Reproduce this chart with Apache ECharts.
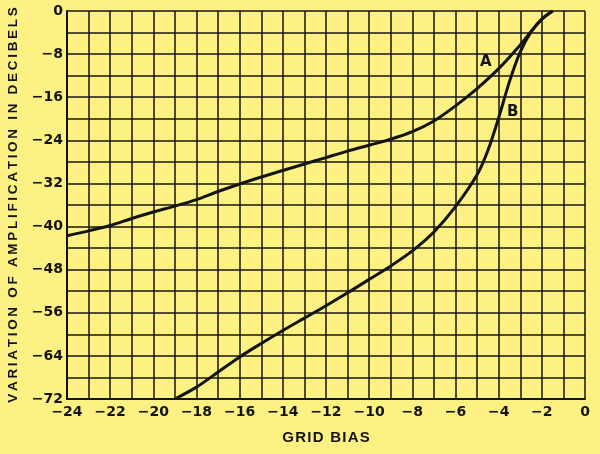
<!DOCTYPE html>
<html><head><meta charset="utf-8">
<script src="https://cdn.jsdelivr.net/npm/echarts@6/dist/echarts.min.js"></script>
<style>html,body{margin:0;padding:0;background:#fdf183;}#c{width:600px;height:454px;}</style>
</head><body><div id="c"></div>
<script>
const curveA_x = [-24, -23, -22, -21, -20, -19, -18, -17, -16, -15, -14, -13, -12, -11, -10, -9, -8, -7, -6, -5, -4, -3, -2.5, -2, -1.5];
const curveA_y = [-41.7, -40.8, -39.8, -38.5, -37.3, -36.2, -35, -33.5, -32.1, -30.8, -29.6, -28.4, -27.2, -26, -24.9, -23.8, -22.4, -20.4, -17.6, -14.4, -10.7, -6.3, -3.8, -1.5, 0];
const curveB_x = [-19, -18, -17, -16, -15, -14, -13, -12, -11, -10, -9, -8, -7, -6, -5, -4.5, -4, -3.5, -3, -2.5, -2, -1.5];
const curveB_y = [-72, -69.8, -67, -64.2, -61.7, -59.3, -57, -54.7, -52.3, -49.8, -47.3, -44.5, -41, -36.3, -30.4, -25.9, -19.8, -13.1, -7.6, -3.9, -1.5, 0];
const labelA = {name: 'A', x: -4.6, y: -9.5};
const labelB = {name: 'B', x: -3.35, y: -18.7};
const xTicks = [-24, -22, -20, -18, -16, -14, -12, -10, -8, -6, -4, -2, 0];
const yTicks = [0, -8, -16, -24, -32, -40, -48, -56, -64, -72];
const xTitle = 'GRID BIAS';
const yTitle = 'VARIATION OF AMPLIFICATION IN DECIBELS';

const spaced = (s, sp) => s.split('').join(sp);
const fmt = v => (v < 0 ? '\u2212' + Math.abs(v) : String(v));
const lineCol = '#141414';
const font = 'DejaVu Sans';
const mk = (xs, ys) => xs.map((x, i) => [x, ys[i]]);
const chart = echarts.init(document.getElementById('c'));
chart.setOption({
  backgroundColor: '#fdf183',
  animation: false,
  grid: {left: 67, right: 15, top: 11, bottom: 55, outerBoundsMode: 'none', containLabel: false},
  xAxis: {
    type: 'value', min: -24, max: 0, interval: 1,
    name: spaced(xTitle, '\u200A'), nameLocation: 'middle', nameGap: 31,
    nameTextStyle: {fontFamily: 'Liberation Sans', fontSize: 15, color: lineCol, fontWeight: 'bold'},
    axisLine: {show: true, onZero: false, lineStyle: {color: lineCol, width: 2}},
    axisTick: {show: false},
    axisLabel: {margin: 6, fontFamily: font, fontSize: 14, fontWeight: 'bold', color: lineCol,
      formatter: v => xTicks.indexOf(v) >= 0 ? fmt(v) : ''},
    splitLine: {show: true, lineStyle: {color: lineCol, width: 1.5}}
  },
  yAxis: {
    type: 'value', min: -72, max: 0, interval: 4,
    name: spaced(yTitle, '\u2009'), nameLocation: 'middle', nameGap: 47, nameRotate: 90,
    nameTextStyle: {fontFamily: 'Liberation Sans', fontSize: 13.5, color: lineCol, fontWeight: 'bold'},
    axisLine: {show: true, onZero: false, lineStyle: {color: lineCol, width: 2}},
    axisTick: {show: false},
    axisLabel: {margin: 4, fontFamily: font, fontSize: 14, fontWeight: 'bold', color: lineCol,
      formatter: v => yTicks.indexOf(v) >= 0 ? fmt(v) : ''},
    splitLine: {show: true, lineStyle: {color: lineCol, width: 1.5}}
  },
  series: [
    {type: 'line', data: mk(curveA_x, curveA_y), smooth: 0.3, symbol: 'none',
     lineStyle: {color: lineCol, width: 3},
     markPoint: {symbol: 'circle', symbolSize: 0, silent: true,
       label: {show: true, formatter: labelA.name, fontFamily: font, fontSize: 15, fontWeight: 'bold', color: lineCol},
       data: [{coord: [labelA.x, labelA.y]}]}},
    {type: 'line', data: mk(curveB_x, curveB_y), smooth: 0.3, symbol: 'none',
     lineStyle: {color: lineCol, width: 3},
     markPoint: {symbol: 'circle', symbolSize: 0, silent: true,
       label: {show: true, formatter: labelB.name, fontFamily: font, fontSize: 15, fontWeight: 'bold', color: lineCol},
       data: [{coord: [labelB.x, labelB.y]}]}}
  ]
});
</script></body></html>
